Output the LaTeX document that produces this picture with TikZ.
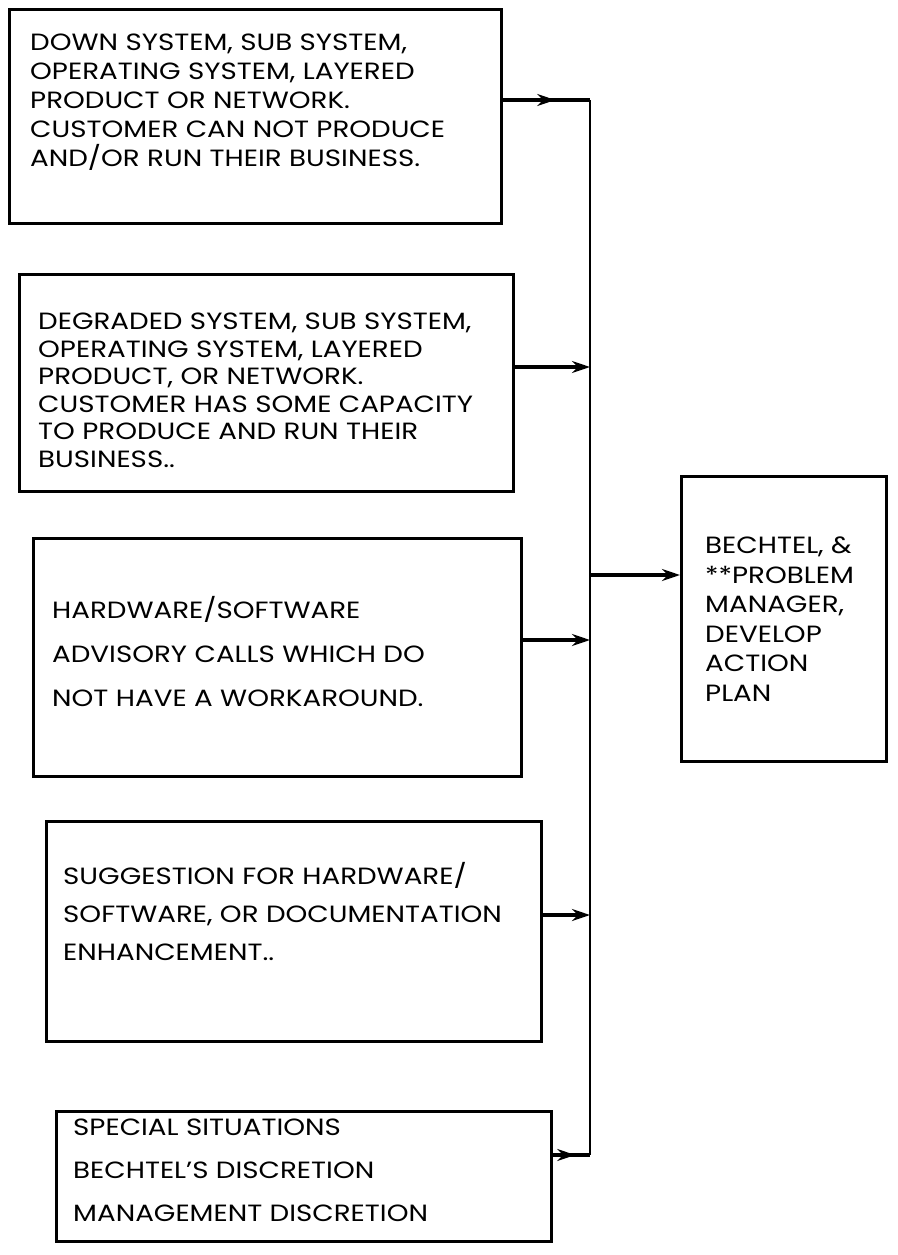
\documentclass[tikz,border=0pt]{standalone}
\usepackage{fontspec}
\setmainfont{Poppins}[FakeStretch=1.18]
\usetikzlibrary{arrows.meta,decorations.markings,calc}
\begin{document}
\begin{tikzpicture}[x=1pt,y=-1pt,
  boxframe/.style={draw,line width=3pt,inner sep=0pt,anchor=north west},
  boxtext/.style={anchor=north west,align=left,inner sep=0pt,font=\fontsize{23.5}{#1}\selectfont},
  busline/.style={line width=2.2pt},
  conn/.style={line width=3.6pt},
  tipend/.style={conn,-{Stealth[length=18pt,width=12pt]}},
  midarrow/.style={conn,decoration={markings,mark=at position 0.6 with {\arrow{Stealth[length=18pt,width=12pt]}}},postaction={decorate}}
]
\useasboundingbox (0,0) rectangle (897,1255);
% boxes
\node[boxframe,minimum width=492pt,minimum height=214pt] (box1) at (8,8) {};
\node[boxframe,minimum width=494pt,minimum height=217pt] (box2) at (18,273) {};
\node[boxframe,minimum width=488pt,minimum height=238pt] (box3) at (32,537) {};
\node[boxframe,minimum width=495pt,minimum height=220pt] (box4) at (45,820) {};
\node[boxframe,minimum width=495pt,minimum height=130pt] (box5) at (55,1110) {};
\node[boxframe,minimum width=205pt,minimum height=285pt] (res) at (680,475) {};
% texts
\node[boxtext=29] (t1) at (30,34) {DOWN SYSTEM, SUB SYSTEM,\\OPERATING SYSTEM, LAYERED\\PRODUCT OR NETWORK.\\CUSTOMER CAN NOT PRODUCE\\AND/OR RUN THEIR BUSINESS.};
\node[boxtext=27.5] (t2) at (38,313) {DEGRADED SYSTEM, SUB SYSTEM,\\OPERATING SYSTEM, LAYERED\\PRODUCT, OR NETWORK.\\CUSTOMER HAS SOME CAPACITY\\TO PRODUCE AND RUN THEIR\\BUSINESS..};
\node[boxtext=44] (t3) at (52,596) {HARDWARE/SOFTWARE\\ADVISORY CALLS WHICH DO\\NOT HAVE A WORKAROUND.};
\node[boxtext=38] (t4) at (63,862) {SUGGESTION FOR HARDWARE/\\SOFTWARE, OR DOCUMENTATION\\ENHANCEMENT..};
\node[boxtext=43] (t5) at (73,1119) {SPECIAL SITUATIONS\\BECHTEL'S DISCRETION\\MANAGEMENT DISCRETION};
\node[boxtext=29.5] (t6) at (705,537) {BECHTEL, \&\\**PROBLEM\\MANAGER,\\DEVELOP\\ACTION\\PLAN};
% bus
\coordinate (b1) at (590,100);
\coordinate (b2) at (590,367);
\coordinate (b3) at (590,640);
\coordinate (b4) at (590,915);
\coordinate (b5) at (590,1155);
\coordinate (bo) at (590,575);
\draw[busline] (b1) -- (b5);
\draw[midarrow] (b1 -| box1.east) -- (b1);
\draw[tipend] (b2 -| box2.east) -- (b2);
\draw[tipend] (b3 -| box3.east) -- (b3);
\draw[tipend] (b4 -| box4.east) -- (b4);
\draw[midarrow] (b5 -| box5.east) -- (b5);
\draw[tipend] (bo) -- (bo -| res.west);
\end{tikzpicture}
\end{document}
